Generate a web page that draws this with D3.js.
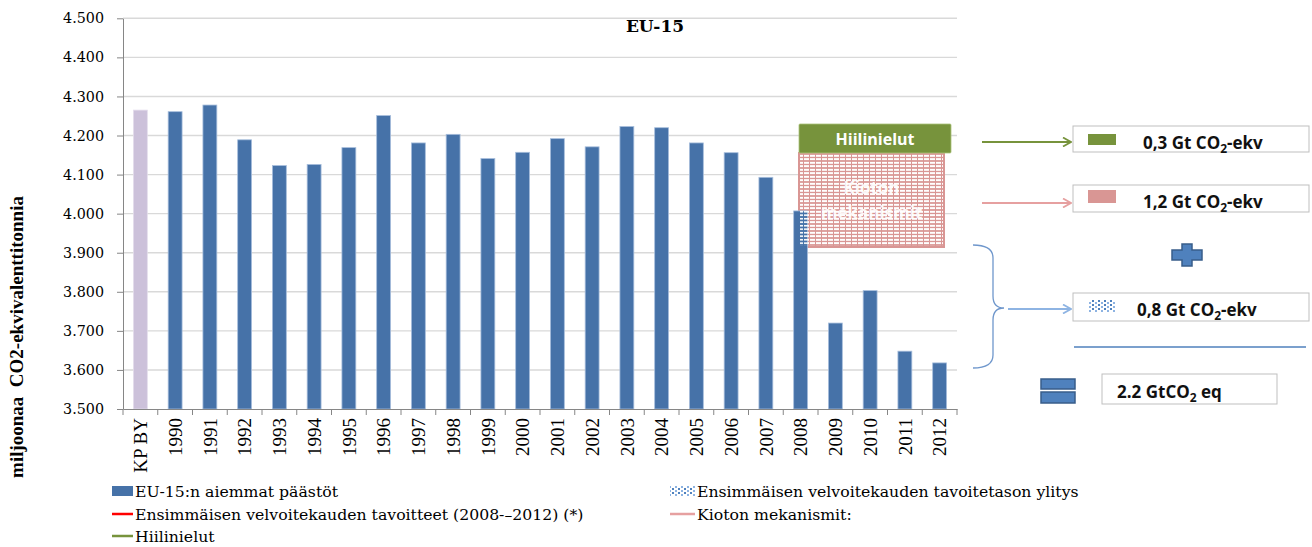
<!DOCTYPE html>
<html><head><meta charset="utf-8">
<script src="https://cdn.jsdelivr.net/npm/d3@7"></script>
<style>html,body{margin:0;padding:0;background:#fff;}svg{display:block;}</style>
</head><body>
<svg id="chart" width="1312" height="547"></svg>
<script>
// ---------- data ----------
const categories = ["KP BY","1990","1991","1992","1993","1994","1995","1996","1997","1998","1999","2000","2001","2002","2003","2004","2005","2006","2007","2008","2009","2010","2011","2012"];
const emissions = [4265,4261,4278,4189,4123,4126,4169,4251,4181,4203,4141,4157,4192,4171,4223,4220,4181,4156,4093,4007,3720,3803,3648,3618];
const yTickValues = [3500,3600,3700,3800,3900,4000,4100,4200,4300,4400,4500];
const chartTitle = "EU-15";
const yAxisTitle = "miljoonaa\u00a0\u00a0CO2-ekvivalenttitonnia";
const legendLeft = ["EU-15:n aiemmat päästöt","Ensimmäisen velvoitekauden tavoitteet (2008-–2012) (*)","Hiilinielut"];
const legendRight = ["Ensimmäisen velvoitekauden tavoitetason ylitys","Kioton mekanismit:"];
const summaryAmounts = ["0,3","1,2","0,8"];
const totalAmount = "2.2";

// ---------- setup ----------
const svg = d3.select("#chart");
const plot = {left:123, right:957, top:18.3, bottom:409};
const fmt = d3.formatLocale({decimal:",", thousands:".", grouping:[3], currency:["","€"]}).format(",");

const x = d3.scaleBand().domain(categories).range([plot.left, plot.right]).paddingInner(0.6).paddingOuter(0.3);
const y = d3.scaleLinear().domain([3500,4500]).range([plot.bottom, plot.top]);

const defs = svg.append("defs");
const pinkP = defs.append("pattern").attr("id","hatchP").attr("patternUnits","userSpaceOnUse").attr("width",6).attr("height",3.5);
pinkP.append("rect").attr("width",6).attr("height",3.5).attr("fill","#D99694");
pinkP.append("rect").attr("x",0).attr("y",0.9).attr("width",5).attr("height",1.6).attr("fill","#fff");
const whiteP = defs.append("pattern").attr("id","hatchW").attr("patternUnits","userSpaceOnUse").attr("width",6).attr("height",3.5);
whiteP.append("rect").attr("x",0).attr("y",0.9).attr("width",5).attr("height",1.6).attr("fill","#fff");
const dotP = defs.append("pattern").attr("id","dots").attr("patternUnits","userSpaceOnUse").attr("width",6).attr("height",4);
dotP.append("rect").attr("width",6).attr("height",4).attr("fill","#fff");
dotP.append("rect").attr("x",0).attr("y",0).attr("width",2).attr("height",2).attr("fill","#4F81BD");
dotP.append("rect").attr("x",3).attr("y",2).attr("width",2).attr("height",2).attr("fill","#8DB3E2");

function marker(id,color){
  defs.append("marker").attr("id",id).attr("viewBox","0 0 10 10").attr("refX",9).attr("refY",5)
    .attr("markerWidth",10).attr("markerHeight",10).attr("markerUnits","userSpaceOnUse").attr("orient","auto")
    .append("path").attr("d","M1,0.5 L9,5 L1,9.5").attr("fill","none").attr("stroke",color).attr("stroke-width",1.8);
}
marker("arrG","#77933C"); marker("arrP","#E6A0A0"); marker("arrB","#8EB4E3");

// ---------- gridlines ----------
svg.append("g").selectAll("line").data(yTickValues.filter(v=>v>3500)).join("line")
  .attr("x1",plot.left).attr("x2",plot.right).attr("y1",d=>y(d)).attr("y2",d=>y(d))
  .attr("stroke","#D9D9D9").attr("stroke-width",1.4);

// ---------- annotation boxes (behind bars) ----------
const boxK = {x:799, y:153, w:145, h:94};
svg.append("rect").attr("x",boxK.x).attr("y",boxK.y).attr("width",boxK.w).attr("height",boxK.h)
  .attr("fill","url(#hatchP)").attr("stroke","#D99694").attr("stroke-width",2);

// ---------- bars ----------
svg.append("g").selectAll("rect").data(categories).join("rect")
  .attr("x",d=>x(d)).attr("width",x.bandwidth())
  .attr("y",(d,i)=>y(emissions[i])).attr("height",(d,i)=>plot.bottom - y(emissions[i]))
  .attr("fill",(d,i)=> i===0 ? "#CCC1DA" : "#4672A8")
  .attr("stroke",(d,i)=> i===0 ? "#E4DDEC" : "#A7BEDC").attr("stroke-width",0.8);

// white dash overlay on Kioton box
svg.append("rect").attr("x",boxK.x+1).attr("y",boxK.y+1).attr("width",boxK.w-2).attr("height",boxK.h-2)
  .attr("fill","url(#hatchW)");
svg.append("text").attr("x",boxK.x+boxK.w/2).attr("y",194).attr("text-anchor","middle")
  .attr("font-family","Open Sans").attr("font-weight",700).attr("font-size",17).attr("fill","#fff").attr("opacity",0.9).text("Kioton");
svg.append("text").attr("x",boxK.x+boxK.w/2).attr("y",219).attr("text-anchor","middle")
  .attr("font-family","Open Sans").attr("font-weight",700).attr("font-size",17).attr("fill","#fff").attr("opacity",0.9).text("mekanismit");

// Hiilinielut box
svg.append("rect").attr("x",799).attr("y",124).attr("width",152).attr("height",29)
  .attr("fill","#77933C").attr("stroke","#A9C17A").attr("stroke-width",0.8).attr("rx",1);
svg.append("text").attr("x",875).attr("y",145).attr("text-anchor","middle")
  .attr("font-family","Open Sans").attr("font-weight",700).attr("font-size",16).attr("fill","#fff").text(legendLeft[2]);

// ---------- axes ----------
const yAxis = svg.append("g").attr("transform",`translate(${plot.left},0)`)
  .call(d3.axisLeft(y).tickValues(yTickValues).tickSize(6).tickSizeOuter(0).tickPadding(13).tickFormat(fmt));
yAxis.select(".domain").attr("stroke","#868686");
yAxis.selectAll(".tick line").attr("stroke","#868686");
yAxis.selectAll(".tick text").attr("font-family","DejaVu Serif").attr("font-size",14.3).attr("fill","#000");

const xAxis = svg.append("g").attr("transform",`translate(0,${plot.bottom})`)
  .call(d3.axisBottom(x).tickSize(0).tickSizeOuter(0));
xAxis.select(".domain").attr("stroke","#868686");
xAxis.selectAll(".tick text").attr("transform","rotate(-90)").attr("x",-9).attr("y",0).attr("dy","0.36em")
  .attr("text-anchor","end").attr("font-family","Liberation Serif").attr("font-size",19).attr("fill","#000");
// tick marks at band boundaries
const bounds = d3.range(categories.length+1).map(i => plot.left + i*x.step());
svg.append("g").selectAll("line").data(bounds).join("line")
  .attr("x1",d=>d).attr("x2",d=>d).attr("y1",plot.bottom).attr("y2",plot.bottom+6).attr("stroke","#868686");

// ---------- titles ----------
svg.append("text").attr("x",655).attr("y",32).attr("text-anchor","middle")
  .attr("font-family","DejaVu Serif").attr("font-weight",700).attr("font-size",17).text(chartTitle);
svg.append("text").attr("transform","translate(23,337) rotate(-90)").attr("text-anchor","middle")
  .attr("font-family","Liberation Serif").attr("font-weight",700).attr("font-size",19).text(yAxisTitle);

// ---------- legend ----------
const lg = svg.append("g").attr("font-family","DejaVu Serif").attr("font-size",15.7).attr("fill","#000");
const rowY = [491, 514, 536];
lg.append("rect").attr("x",112).attr("y",rowY[0]-5).attr("width",21).attr("height",10).attr("fill","#4672A8");
lg.append("line").attr("x1",112).attr("x2",133).attr("y1",rowY[1]).attr("y2",rowY[1]).attr("stroke","#FF0000").attr("stroke-width",2.5);
lg.append("line").attr("x1",112).attr("x2",133).attr("y1",rowY[2]).attr("y2",rowY[2]).attr("stroke","#77933C").attr("stroke-width",2.5);
lg.selectAll("text.l").data(legendLeft).join("text").attr("class","l")
  .attr("x",135).attr("y",(d,i)=>rowY[i]).attr("dy","0.36em").text(d=>d);
lg.append("rect").attr("x",670).attr("y",rowY[0]-5).attr("width",25).attr("height",10).attr("fill","url(#dots)");
lg.append("line").attr("x1",670).attr("x2",695).attr("y1",rowY[1]).attr("y2",rowY[1]).attr("stroke","#E6A0A0").attr("stroke-width",2.5);
lg.selectAll("text.r").data(legendRight).join("text").attr("class","r")
  .attr("x",697).attr("y",(d,i)=>rowY[i]).attr("dy","0.36em").text(d=>d);

// ---------- right-side summary ----------
const sg = svg.append("g");
function gtText(xp, yp, amount){
  const t = sg.append("text").attr("x",xp).attr("y",yp).attr("font-family","Open Sans").attr("font-weight",700)
    .attr("font-size",17).attr("fill","#111");
  t.append("tspan").text(amount + " Gt CO");
  t.append("tspan").attr("font-size",12).attr("dy",4).text("2");
  t.append("tspan").attr("dy",-4).text("-ekv");
}
const boxes = [
  {y:126, h:26, swatch:"#77933C", sy:134, sh:11, ty:149, arrow:"arrG", color:"#77933C", ay:142},
  {y:185, h:27, swatch:"#D99694", sy:190, sh:13, ty:208, arrow:"arrP", color:"#E6A0A0", ay:203},
  {y:293, h:28, swatch:"url(#dots)", sy:300, sh:12, ty:316, arrow:"arrB", color:"#8EB4E3", ay:309}
];
boxes.forEach((b,i)=>{
  sg.append("rect").attr("x",1073).attr("y",b.y).attr("width",236).attr("height",b.h)
    .attr("fill","#fff").attr("stroke","#BFBFBF").attr("stroke-width",1);
  sg.append("rect").attr("x",1088).attr("y",b.sy).attr("width",28).attr("height",b.sh).attr("fill",b.swatch);
  gtText(i===2?1137:1143, b.ty, summaryAmounts[i]);
  sg.append("line").attr("x1", i===2?1008:982).attr("x2",1071).attr("y1",b.ay).attr("y2",b.ay)
    .attr("stroke",b.color).attr("stroke-width",1.8).attr("marker-end",`url(#${b.arrow})`);
});
// brace
sg.append("path").attr("d","M973,245 Q993,245 993,258 L993,296 Q993,308 1004,308 Q993,308 993,320 L993,355 Q993,368 973,368")
  .attr("fill","none").attr("stroke","#6F97CC").attr("stroke-width",1.3);
// plus
sg.append("path").attr("d","M1182,244 h10 v6 h10 v10 h-10 v6 h-10 v-6 h-10 v-10 h10 z")
  .attr("fill","#4F81BD").attr("stroke","#385D8A").attr("stroke-width",1.5);
// separator line
sg.append("line").attr("x1",1074).attr("x2",1306).attr("y1",347).attr("y2",347).attr("stroke","#4F81BD").attr("stroke-width",1.5);
// equals
sg.append("rect").attr("x",1041).attr("y",379).attr("width",34).attr("height",10).attr("fill","#4F81BD").attr("stroke","#385D8A").attr("stroke-width",1.5);
sg.append("rect").attr("x",1041).attr("y",392).attr("width",34).attr("height",11).attr("fill","#4F81BD").attr("stroke","#385D8A").attr("stroke-width",1.5);
// total box
sg.append("rect").attr("x",1102).attr("y",374).attr("width",175).attr("height",30).attr("fill","#fff").attr("stroke","#BFBFBF");
const tt = sg.append("text").attr("x",1117).attr("y",398).attr("font-family","Open Sans").attr("font-weight",700).attr("font-size",17).attr("fill","#111");
tt.append("tspan").text(totalAmount + " GtCO");
tt.append("tspan").attr("font-size",12).attr("dy",4).text("2");
tt.append("tspan").attr("dy",-4).text(" eq");
</script>
</body></html>
